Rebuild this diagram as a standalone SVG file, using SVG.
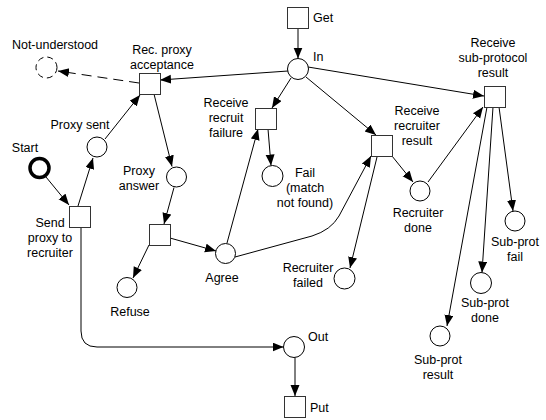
<svg xmlns="http://www.w3.org/2000/svg" width="546" height="420" viewBox="0 0 546 420">
<style>
.p{fill:#fff;stroke:#000;stroke-width:1}
.t{fill:#fff;stroke:#333;stroke-width:1}
.c{fill:none;stroke:#000;stroke-width:1}
text{font-family:"Liberation Sans",Arial,sans-serif;font-size:12.5px;fill:#000}
.m{text-anchor:middle}
</style>
<defs>
<marker id="a" markerUnits="userSpaceOnUse" markerWidth="12" markerHeight="10" refX="11" refY="4.5" orient="auto">
<path d="M0,0 L11,4.5 L0,9 z" fill="#000"/>
</marker>
</defs>
<rect width="546" height="420" fill="#fff"/>
<g id="connectors">
<path class="c" marker-end="url(#a)" d="M298,28 L298,58.5"/>
<path class="c" marker-end="url(#a)" d="M288,71 L160,80"/>
<path class="c" marker-end="url(#a)" stroke-dasharray="10,6" d="M139,83 L58,71"/>
<path class="c" marker-end="url(#a)" d="M291,78 L272,108"/>
<path class="c" marker-end="url(#a)" d="M306,77 L376,135"/>
<path class="c" marker-end="url(#a)" d="M308,67 L484,96"/>
<path class="c" marker-end="url(#a)" d="M46,177 L69,205"/>
<path class="c" marker-end="url(#a)" d="M78,206 L93,158"/>
<path class="c" marker-end="url(#a)" d="M105,139 L140,95"/>
<path class="c" marker-end="url(#a)" d="M154,94 L172,166.5"/>
<path class="c" marker-end="url(#a)" d="M174,187.5 L164,224"/>
<path class="c" marker-end="url(#a)" d="M149,245 L133,278"/>
<path class="c" marker-end="url(#a)" d="M170,238 L216,251"/>
<path class="c" marker-end="url(#a)" d="M227,243 L258,129"/>
<path class="c" marker-end="url(#a)" d="M268,129 L271,165.5"/>
<path class="c" marker-end="url(#a)" d="M235,257 L312,236 Q331,230 339,216 L371,156"/>
<path class="c" marker-end="url(#a)" d="M377,157 L350,268"/>
<path class="c" marker-end="url(#a)" d="M392,156 L413,182"/>
<path class="c" marker-end="url(#a)" d="M428,182 L483,107"/>
<path class="c" marker-end="url(#a)" d="M487,107 L447,326"/>
<path class="c" marker-end="url(#a)" d="M493,107 L482,272.5"/>
<path class="c" marker-end="url(#a)" d="M499,107 L513,211"/>
<path class="c" marker-end="url(#a)" d="M81,227 L81,331 Q81,347 97,347 L283.5,347"/>
<path class="c" marker-end="url(#a)" d="M295,357.5 L295,396"/>
</g>
<g id="get"><rect class="t" x="287.5" y="7.5" width="21" height="21"/><text x="313" y="22">Get</text></g>
<g id="in"><circle class="p" cx="298" cy="69" r="10.5"/><text x="313" y="61">In</text></g>
<g id="not-understood"><circle class="p" cx="46.5" cy="67.5" r="10.5" stroke-dasharray="6,4"/><text class="m" x="55" y="49">Not-understood</text></g>
<g id="rec-proxy-acceptance"><rect class="t" x="139.5" y="73.5" width="21" height="21"/><text class="m" x="162" y="54">Rec. proxy</text><text class="m" x="162" y="69">acceptance</text></g>
<g id="proxy-sent"><circle class="p" cx="97" cy="147" r="10"/><text class="m" x="80" y="129">Proxy sent</text></g>
<g id="start"><circle cx="39.5" cy="168" r="9.5" fill="#fff" stroke="#000" stroke-width="3.5"/><text class="m" x="25" y="152">Start</text></g>
<g id="send-proxy"><rect class="t" x="69.5" y="206.5" width="21" height="21"/><text class="m" x="50" y="227">Send</text><text class="m" x="50" y="242">proxy to</text><text class="m" x="50" y="257">recruiter</text></g>
<g id="proxy-answer"><circle class="p" cx="176.5" cy="177" r="10"/><text class="m" x="139" y="175">Proxy</text><text class="m" x="139" y="190">answer</text></g>
<g id="answer-decision"><rect class="t" x="149.5" y="224.5" width="21" height="21"/></g>
<g id="refuse"><circle class="p" cx="127" cy="287.5" r="10"/><text class="m" x="130" y="316">Refuse</text></g>
<g id="agree"><circle class="p" cx="225.5" cy="253.5" r="10"/><text class="m" x="222" y="282">Agree</text></g>
<g id="receive-recruit-failure"><rect class="t" x="255.5" y="108.5" width="21" height="21"/><text class="m" x="226" y="107">Receive</text><text class="m" x="226" y="122">recruit</text><text class="m" x="226" y="137">failure</text></g>
<g id="fail"><circle class="p" cx="272.5" cy="176" r="10.5"/><text class="m" x="305" y="177">Fail</text><text class="m" x="305" y="192">(match</text><text class="m" x="305" y="207">not found)</text></g>
<g id="receive-recruiter-result"><rect class="t" x="371.5" y="135.5" width="21" height="21"/><text class="m" x="417" y="115">Receive</text><text class="m" x="417" y="130">recruiter</text><text class="m" x="417" y="145">result</text></g>
<g id="recruiter-failed"><circle class="p" cx="344.5" cy="278.5" r="10.5"/><text class="m" x="308" y="272">Recruiter</text><text class="m" x="308" y="287">failed</text></g>
<g id="recruiter-done"><circle class="p" cx="420" cy="191" r="10"/><text class="m" x="418" y="217">Recruiter</text><text class="m" x="418" y="232">done</text></g>
<g id="receive-sub-protocol-result"><rect class="t" x="484.5" y="86.5" width="21" height="21"/><text class="m" x="493" y="47">Receive</text><text class="m" x="493" y="62">sub-protocol</text><text class="m" x="493" y="77">result</text></g>
<g id="sub-prot-fail"><circle class="p" cx="515" cy="221" r="10"/><text class="m" x="515" y="246">Sub-prot</text><text class="m" x="515" y="261">fail</text></g>
<g id="sub-prot-done"><circle class="p" cx="481" cy="283" r="10.5"/><text class="m" x="485" y="307">Sub-prot</text><text class="m" x="485" y="322">done</text></g>
<g id="sub-prot-result"><circle class="p" cx="440" cy="336" r="10"/><text class="m" x="438" y="364">Sub-prot</text><text class="m" x="438" y="379">result</text></g>
<g id="out"><circle class="p" cx="294" cy="347" r="10.5"/><text x="308" y="341">Out</text></g>
<g id="put"><rect class="t" x="284.5" y="396.5" width="21" height="21"/><text x="310" y="412">Put</text></g>
</svg>
